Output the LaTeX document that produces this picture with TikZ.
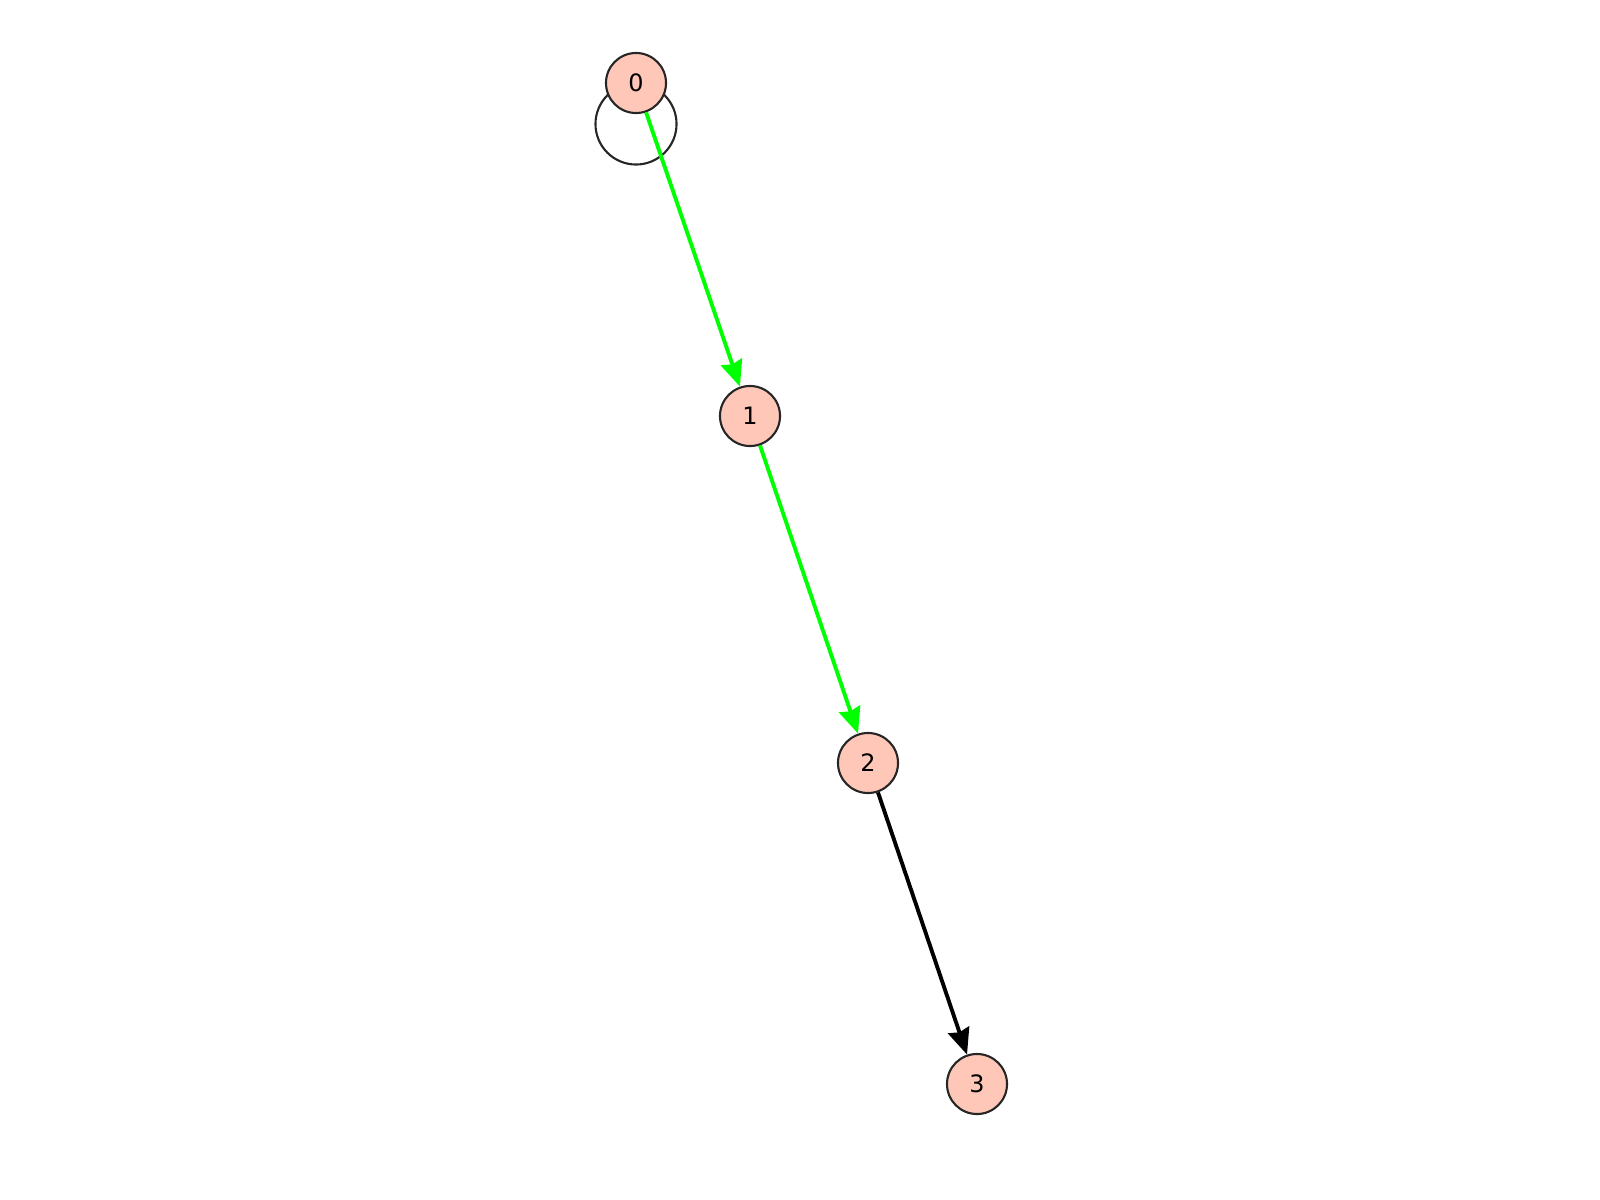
\documentclass[tikz,border=0pt]{standalone}
\usepackage{fontspec}
\setmainfont{DejaVu Sans}
\usetikzlibrary{arrows.meta,positioning}
\definecolor{vertexpink}{HTML}{FEC7B8}
\tikzset{
  vertex/.style={circle,draw=black!85,line width=0.6pt,fill=vertexpink,
    minimum size=0.6cm,inner sep=0pt,font=\fontsize{6.8}{7}\selectfont},
  edge/.style={line width=1.1pt,-{Stealth[length=0.26cm,width=0.22cm,inset=0.025cm]}}
}
\begin{document}
\begin{tikzpicture}[x=0.01cm,y=-0.01cm]
  \useasboundingbox (0,0) rectangle (1600,1200);
% Loop on vertex 0
  \draw[black!85,line width=0.6pt] (636,124) circle (0.405cm);
% Vertices
  \node[vertex] (v0) at (636,83) {0};
  \node[vertex] (v1) at (750,416) {1};
  \node[vertex] (v2) at (868,763) {2};
  \node[vertex] (v3) at (977,1084) {3};
% Edges
  \draw[edge,green] (v0) -- (v1);
  \draw[edge,green] (v1) -- (v2);
  \draw[edge,black] (v2) -- (v3);
\end{tikzpicture}
\end{document}
